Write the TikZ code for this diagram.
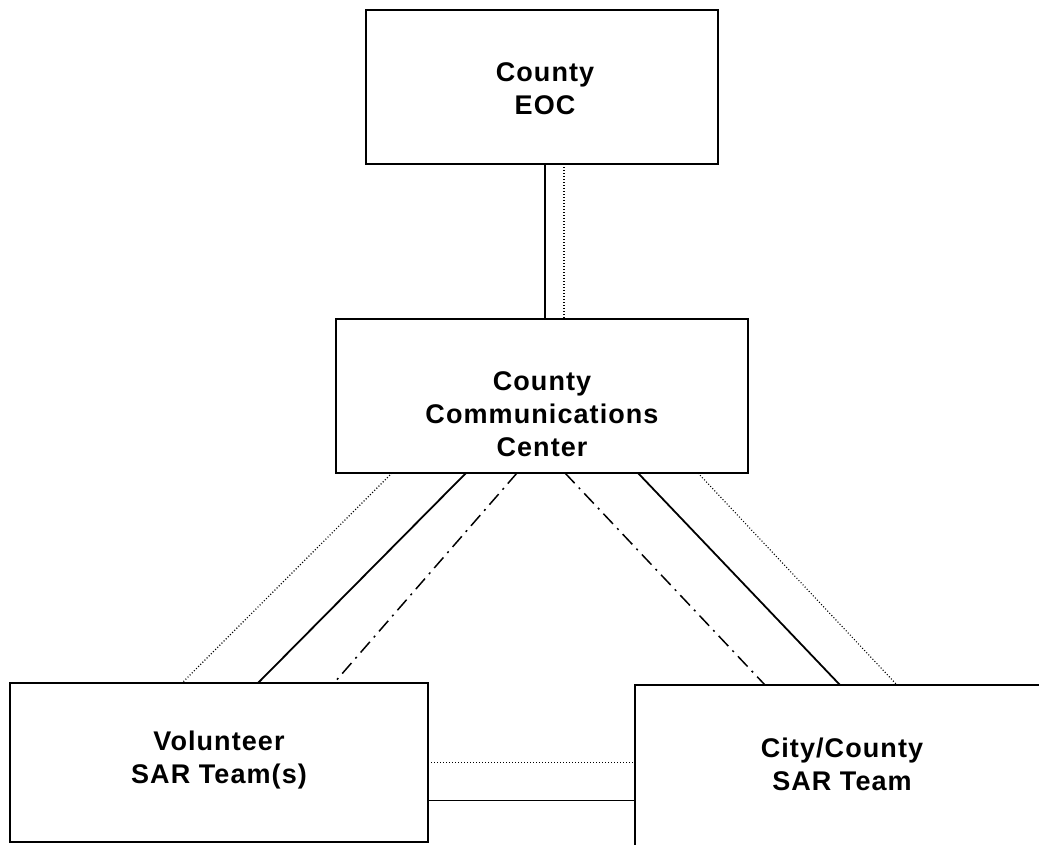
\documentclass[tikz,border=0pt]{standalone}
\usepackage{fontspec}
\setmainfont{Liberation Sans}[LetterSpace=4]
\begin{document}
\begin{tikzpicture}[x=1pt, y=-1pt, font=\bfseries\fontsize{27}{33}\selectfont, line join=miter, line cap=rect,
    box/.style={draw, line width=1.8pt, fill=white, inner sep=0pt, outer sep=0pt},
    boxtext/.style={align=center, inner sep=0pt},
    solidline/.style={line width=1.8pt},
    dotline/.style={line width=1.1pt, line cap=butt, dash pattern=on 1pt off 2pt},
    dashdotline/.style={line width=1.5pt, line cap=butt, dash pattern=on 14pt off 6pt on 2pt off 6pt}]
    \useasboundingbox (0,0) rectangle (1039,844);
    \clip (0,0) rectangle (1039,844);
    % boxes
    \node[box, minimum width=352pt, minimum height=154pt] (eoc) at (542,87) {};
    \node[box, minimum width=412pt, minimum height=154pt] (comm) at (542,396) {};
    \node[box, minimum width=418pt, minimum height=159pt] (vol) at (219,762.5) {};
    \node[box, minimum width=415pt, minimum height=163pt] (city) at (842.5,766.5) {};
    % texts
    \node[boxtext] (eoctext) at (545,89) {County\\EOC};
    \node[boxtext] (commtext) at (542,414) {County\\Communications\\Center};
    \node[boxtext] (voltext) at (219,760) {Volunteer\\SAR Team(s)};
    \node[boxtext] (citytext) at (842,764) {City/County\\SAR Team};
    % EOC to communications center
    \draw[solidline, line cap=butt] ([xshift=3pt]eoc.south) -- ([xshift=3pt]comm.north);
    \draw[dotline] ([xshift=22pt]eoc.south) -- ([xshift=22pt]comm.north);
    % communications center to volunteer teams
    \draw[dotline] ([xshift=56pt]comm.south west) -- ([xshift=172pt]vol.north west);
    \draw[solidline, line cap=butt] ([xshift=130pt]comm.south west) -- ([xshift=248pt]vol.north west);
    \draw[dashdotline] ([xshift=181pt]comm.south west) -- ([xshift=324pt]vol.north west);
    % communications center to city/county team
    \draw[dashdotline] ([xshift=-183pt]comm.south east) -- ([xshift=130pt]city.north west);
    \draw[solidline, line cap=butt] ([xshift=-110pt]comm.south east) -- ([xshift=205pt]city.north west);
    \draw[dotline] ([xshift=-50pt]comm.south east) -- ([xshift=262pt]city.north west);
    % volunteer teams to city/county team
    \draw[dotline] (vol.east) -- (vol.east -| city.west);
    \draw[solidline, line cap=butt] ([yshift=-38pt]vol.east) -- ([yshift=-38pt]vol.east -| city.west);
\end{tikzpicture}
\end{document}
